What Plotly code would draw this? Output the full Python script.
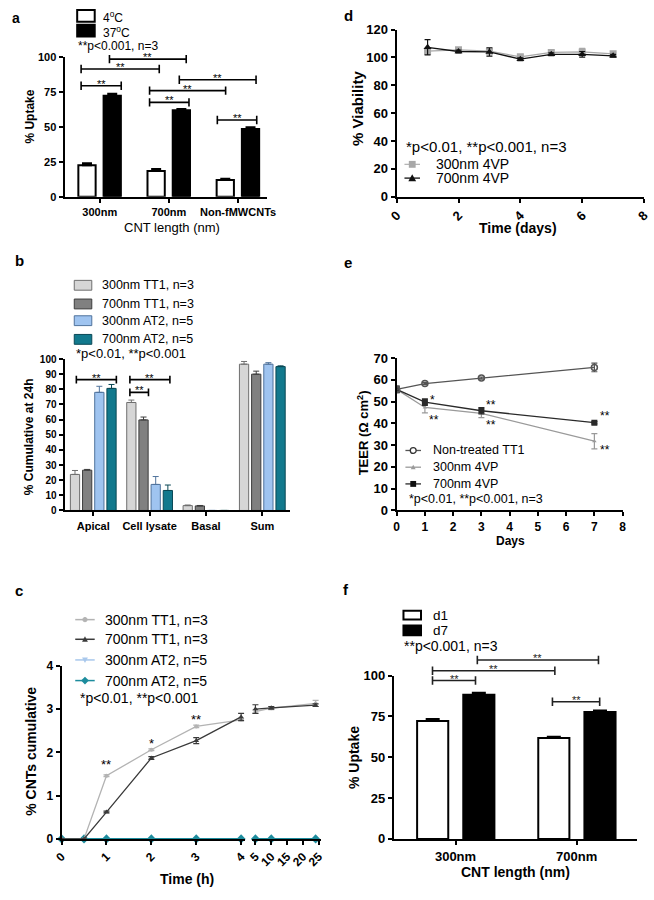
import plotly.graph_objects as go

W, H = 654, 900
FONT = "Liberation Sans, Arial, Helvetica, sans-serif"


def X(px):
    return px / W


def Y(py):
    return 1 - py / H


# ======================= DATA =======================
# (a) uptake at 4 and 37 degC
a_categories = ["300nm", "700nm", "Non-fMWCNTs"]
a_4C = [22.6, 18.4, 12.1]
a_4C_err = [1.4, 1.5, 0.8]
a_37C = [72.4, 62.0, 48.6]
a_37C_err = [1.3, 0.8, 1.2]
a_yticks = [0, 25, 50, 75, 100]

# (b) cumulative distribution at 24 h
b_categories = ["Apical", "Cell lysate", "Basal", "Sum"]
b_names = ["300nm TT1, n=3", "700nm TT1, n=3", "300nm AT2, n=5", "700nm AT2, n=5"]
b_300_TT1 = [23.8, 71.3, 3.2, 96.6]
b_300_TT1_err = [2.6, 1.6, 0.4, 1.8]
b_700_TT1 = [26.6, 59.8, 3.0, 90.0]
b_700_TT1_err = [0.5, 1.9, 0.3, 2.0]
b_300_AT2 = [78.0, 17.2, 0.0, 96.6]
b_300_AT2_err = [4.0, 5.2, 0.0, 1.0]
b_700_AT2 = [80.6, 13.2, 0.0, 95.0]
b_700_AT2_err = [2.6, 3.6, 0.0, 0.5]
b_yticks = [0, 10, 20, 30, 40, 50, 60, 70, 80, 90, 100]

# (c) cumulative transport over time
c_hours = [0, 0.5, 1, 2, 3, 4, 5, 10, 24]
c_300_TT1 = [0.0, 0.0, 1.46, 2.06, 2.60, 2.75, 2.94, 3.02, 3.13]
c_300_TT1_err = [0.0, 0.0, 0.02, 0.02, 0.03, 0.03, 0.04, 0.03, 0.07]
c_700_TT1 = [0.0, 0.0, 0.62, 1.87, 2.27, 2.82, 3.00, 3.03, 3.09]
c_700_TT1_err = [0.0, 0.0, 0.02, 0.03, 0.07, 0.08, 0.10, 0.03, 0.03]
c_300_AT2 = [0.0, 0.0, 0.0, 0.0, 0.0, 0.0, 0.0, 0.0, 0.0]
c_700_AT2 = [0.0, 0.0, 0.0, 0.0, 0.0, 0.0, 0.0, 0.0, 0.0]
c_ticks_1 = [0, 1, 2, 3, 4]
c_ticks_2 = [5, 10, 15, 20, 25]

# (d) viability
d_days = [1, 2, 3, 4, 5, 6, 7]
d_300 = [104.5, 105.5, 104.5, 100.5, 103.6, 104.0, 102.6]
d_300_err = [1.5, 1.0, 1.0, 1.0, 1.5, 2.5, 1.0]
d_700 = [107.3, 104.3, 104.0, 98.8, 102.3, 102.3, 101.2]
d_700_err = [5.5, 1.0, 3.0, 1.0, 1.0, 2.0, 1.0]
d_xticks = [0, 2, 4, 6, 8]
d_yticks = [0, 20, 40, 60, 80, 100, 120]

# (e) TEER
e_days = [0, 1, 3, 7]
e_ctrl = [55.6, 58.3, 60.8, 65.7]
e_ctrl_err = [1.0, 0.5, 0.5, 2.0]
e_300 = [55.6, 47.3, 44.6, 31.8]
e_300_err = [1.5, 2.5, 2.0, 3.5]
e_700 = [55.6, 49.8, 45.8, 40.3]
e_700_err = [1.5, 1.5, 1.5, 0.5]
e_xticks = [0, 1, 2, 3, 4, 5, 6, 7, 8]
e_yticks = [0, 10, 20, 30, 40, 50, 60, 70]

# (f) uptake day 1 vs day 7
f_categories = ["300nm", "700nm"]
f_d1 = [72.3, 61.8]
f_d1_err = [1.2, 0.8]
f_d7 = [88.3, 77.8]
f_d7_err = [1.2, 0.8]
f_yticks = [0, 25, 50, 75, 100]

# ======================= STYLE =======================
LG, LG_L = "#d6d6d6", "#6f6f6f"
DG, DG_L = "#808080", "#3c3c3c"
LB, LB_L = "#9fc4f0", "#50739c"
TL, TL_L = "#12798d", "#0a4855"

fig = go.Figure()


def zeros(n):
    return [0] * n


def bar(x, y, err, xa, ya, offset, width, fill, line, lw, ecolor, ew):
    fig.add_trace(go.Bar(
        x=x, y=y, xaxis=xa, yaxis=ya, offset=offset, width=width,
        marker=dict(color=fill, line=dict(color=line, width=lw)),
        error_y=dict(type="data", array=err, arrayminus=zeros(len(err)),
                     symmetric=False, color=ecolor, thickness=lw, width=ew),
        hoverinfo="skip"))


# (a)
bar(a_categories, a_4C, a_4C_err, "x", "y", -0.31, 0.25, "white", "black", 2, "black", 5)
bar(a_categories, a_37C, a_37C_err, "x", "y", 0.055, 0.25, "black", "black", 2, "black", 5)

# (b)
b_width = 0.164
b_offsets = [-0.406, -0.19, 0.026, 0.242]
bar(b_categories, b_300_TT1, b_300_TT1_err, "x3", "y3", b_offsets[0], b_width, LG, LG_L, 1, LG_L, 3)
bar(b_categories, b_700_TT1, b_700_TT1_err, "x3", "y3", b_offsets[1], b_width, DG, DG_L, 1, DG_L, 3)
bar(b_categories, b_300_AT2, b_300_AT2_err, "x3", "y3", b_offsets[2], b_width, LB, LB_L, 1, LB_L, 3)
bar(b_categories, b_700_AT2, b_700_AT2_err, "x3", "y3", b_offsets[3], b_width, TL, TL_L, 1, TL_L, 3)

# (f)
bar(f_categories, f_d1, f_d1_err, "x6", "y6", -0.317, 0.257, "white", "black", 2, "black", 7)
bar(f_categories, f_d7, f_d7_err, "x6", "y6", 0.064, 0.257, "black", "black", 2, "black", 7)


def line_trace(x, y, err, xa, ya, color, lw, symbol, msize, mfill=None, mline=None, mlw=0, clip=True):
    fig.add_trace(go.Scatter(
        x=x, y=y, xaxis=xa, yaxis=ya, mode="lines+markers",
        line=dict(color=color, width=lw),
        marker=dict(symbol=symbol, size=msize, color=mfill if mfill else color,
                    line=dict(color=mline if mline else color, width=mlw)),
        error_y=dict(type="data", array=err, color=color, thickness=1.2, width=3),
        cliponaxis=clip, hoverinfo="skip"))


# (c) broken x axis: two segments
def seg(xs, ys, es, lo, hi):
    idx = [i for i, v in enumerate(xs) if lo <= v <= hi]
    return [xs[i] for i in idx], [ys[i] for i in idx], [es[i] for i in idx]


c_series = [
    (c_300_AT2, zeros(len(c_hours)), "#a9c8ec", 1.5, "triangle-down", 5),
    (c_700_AT2, zeros(len(c_hours)), "#1d8c9d", 2, "diamond", 7),
    (c_300_TT1, c_300_TT1_err, "#b3b3b3", 1.3, "circle", 4),
    (c_700_TT1, c_700_TT1_err, "#3a3a3a", 1.3, "triangle-up", 5),
]
for ys, es, col, lw, sym, ms in c_series:
    for lo, hi, xa in [(0, 4, "x5"), (5, 30, "x7")]:
        sx, sy, se = seg(c_hours, ys, es, lo, hi)
        line_trace(sx, sy, se, xa, "y5", col, lw, sym, ms, clip=False)

# (d)
line_trace(d_days, d_300, d_300_err, "x2", "y2", "#a8a8a8", 1.2, "square", 7)
line_trace(d_days, d_700, d_700_err, "x2", "y2", "#111111", 1.3, "triangle-up", 7)

# (e)
line_trace(e_days, e_300, e_300_err, "x4", "y4", "#9a9a9a", 1.3, "triangle-up", 4)
line_trace(e_days, e_700, e_700_err, "x4", "y4", "#2a2a2a", 1.3, "square", 6)
line_trace(e_days, e_ctrl, e_ctrl_err, "x4", "y4", "#555555", 1.3, "circle-open", 6,
           mline="#333333", mlw=1.5)

# empty helpers so the bracket-only axes own a subplot
fig.add_trace(go.Scatter(x=[], y=[], xaxis="x", yaxis="y9", hoverinfo="skip"))
fig.add_trace(go.Scatter(x=[], y=[], xaxis="x6", yaxis="y8", hoverinfo="skip"))


# ======================= AXES =======================
def axis(domain, rng, anchor, tsize, **kw):
    d = dict(domain=domain, range=rng, anchor=anchor, showgrid=False, zeroline=False,
             showline=True, linecolor="black", linewidth=2, mirror=False,
             ticks="outside", ticklen=4, tickwidth=2, tickcolor="black",
             tickfont=dict(family=FONT, size=tsize, color="black", weight="bold"))
    d.update(kw)
    return d


layout = dict(
    width=W, height=H, margin=dict(l=0, r=0, t=0, b=0),
    paper_bgcolor="white", plot_bgcolor="rgba(0,0,0,0)", showlegend=False,
    barmode="overlay", font=dict(family=FONT, color="black"),
    # a
    xaxis=axis([X(57), X(265)], [-0.51, 2.42], "y", 11, type="category"),
    yaxis=axis([Y(193), Y(51)], [0, 100], "x", 11, tickvals=a_yticks),
    yaxis9=dict(domain=[Y(193), Y(40)], range=[0, (193 - 40) / 1.42], anchor="x", visible=False),
    # d
    xaxis2=axis([X(398), X(652)], [0, 8], "y2", 13, tickvals=d_xticks, tickangle=-45),
    yaxis2=axis([Y(193), Y(23)], [0, 120], "x2", 13, tickvals=d_yticks),
    # b
    xaxis3=axis([X(57), X(289)], [-0.51, 3.5], "y3", 11, type="category"),
    yaxis3=axis([Y(512), Y(358)], [0, 100], "x3", 10, tickvals=b_yticks),
    # e
    xaxis4=axis([X(398), X(630)], [0, 8], "y4", 12, tickvals=e_xticks),
    yaxis4=axis([Y(512), Y(357)], [0, 70], "x4", 13, tickvals=e_yticks),
    # c (segment 1 and segment 2)
    xaxis5=axis([X(54), X(242)], [0, 4.08], "y5", 12, tickvals=c_ticks_1, tickangle=-45),
    xaxis7=axis([X(249), X(320)], [3.77, 25.6], "y5", 12, tickvals=c_ticks_2, tickangle=-45),
    yaxis5=axis([Y(846), Y(670)], [0, 4], "x5", 12, tickvals=[0, 1, 2, 3, 4]),
    # f
    xaxis6=axis([X(395), X(645)], [-0.51, 1.5], "y6", 13, type="category"),
    yaxis6=axis([Y(846), Y(680)], [0, 100], "x6", 13, tickvals=f_yticks),
    yaxis8=dict(domain=[Y(846), Y(658)], range=[0, (846 - 658) / 1.66], anchor="x6", visible=False),
)
fig.update_layout(**layout)

# ======================= SHAPES / ANNOTATIONS =======================
shapes = []
annots = []


def bracket(xa, ya, x0, x1, y, cap, stars, color="black", lw=1.6, size=11):
    for (a0, b0, a1, b1) in [(x0, y, x1, y), (x0, y - cap, x0, y + cap), (x1, y - cap, x1, y + cap)]:
        shapes.append(dict(type="line", xref=xa, yref=ya, x0=a0, y0=b0, x1=a1, y1=b1,
                           line=dict(color=color, width=lw)))
    annots.append(dict(x=(x0 + x1) / 2, y=y, xref=xa, yref=ya, text=stars, showarrow=False,
                       xanchor="center", yanchor="middle", yshift=2,
                       font=dict(family=FONT, size=size, color=color)))


# (a) significance brackets
for x0, x1, y in [(-0.27, 0.31, 79.5), (-0.27, 0.86, 91.5), (0.14, 1.25, 98.6),
                  (0.72, 1.29, 67.6), (0.72, 1.82, 76.0), (1.15, 2.26, 83.8), (1.70, 2.27, 55.0)]:
    bracket("x", "y9", x0, x1, y, 3, "**")

# (b)
for x0, x1, y in [(-0.30, 0.41, 86.4), (0.65, 0.98, 78.0), (0.65, 1.36, 86.4)]:
    bracket("x3", "y3", x0, x1, y, 2.5, "**", lw=1.6)

# (f)
for x0, x1, y in [(-0.19, 0.165, 97.0), (-0.19, 0.82, 103.0), (0.18, 1.18, 109.6), (0.80, 1.19, 84.0)]:
    bracket("x6", "y8", x0, x1, y, 2.6, "**", color="#222222", lw=1.6)


def star(xa, ya, x, y, text, size, xanchor="center"):
    annots.append(dict(x=x, y=y, xref=xa, yref=ya, text=text, showarrow=False,
                       xanchor=xanchor, yanchor="middle", yshift=-3,
                       font=dict(family=FONT, size=size, color="black")))


# (c) stars
star("x5", "y5", 1, 1.80, "**", 13)
star("x5", "y5", 2, 2.27, "*", 13)
star("x5", "y5", 3, 2.83, "**", 13)
# (e) stars
star("x4", "y4", 1.12, 52.0, "*", 12, "left")
star("x4", "y4", 1.07, 43.0, "**", 12, "left")
star("x4", "y4", 3.10, 49.6, "**", 12, "left")
star("x4", "y4", 3.10, 40.7, "**", 12, "left")
star("x4", "y4", 7.14, 44.6, "**", 12, "left")
star("x4", "y4", 7.14, 29.3, "**", 12, "left")


def T(px, py, text, size=12, bold=False, xanchor="left", yanchor="middle", angle=0):
    annots.append(dict(x=X(px), y=Y(py), xref="paper", yref="paper", text=text, showarrow=False,
                       xanchor=xanchor, yanchor=yanchor, textangle=angle,
                       font=dict(family=FONT, size=size, color="black",
                                 weight="bold" if bold else "normal")))


def rect_px(x0, y0, x1, y1, fill, line, lw):
    shapes.append(dict(type="rect", xref="paper", yref="paper", x0=X(x0), x1=X(x1),
                       y0=Y(y1), y1=Y(y0), fillcolor=fill, line=dict(color=line, width=lw)))


def hline_px(x0, x1, y, color, lw):
    shapes.append(dict(type="line", xref="paper", yref="paper", x0=X(x0), x1=X(x1),
                       y0=Y(y), y1=Y(y), line=dict(color=color, width=lw)))


def path_px(pts, fill, line=None, lw=0):
    p = "M " + " L ".join(f"{X(a):.5f},{Y(b):.5f}" for a, b in pts) + " Z"
    shapes.append(dict(type="path", xref="paper", yref="paper", path=p, fillcolor=fill,
                       line=dict(color=line if line else fill, width=lw)))


def circle_px(cx, cy, r, fill, line, lw):
    shapes.append(dict(type="circle", xref="paper", yref="paper", x0=X(cx - r), x1=X(cx + r),
                       y0=Y(cy + r), y1=Y(cy - r), fillcolor=fill, line=dict(color=line, width=lw)))


def tri_up(cx, cy, r, fill):
    path_px([(cx, cy - r), (cx + r, cy + r * 0.8), (cx - r, cy + r * 0.8)], fill)


def tri_down(cx, cy, r, fill):
    path_px([(cx, cy + r), (cx + r, cy - r * 0.8), (cx - r, cy - r * 0.8)], fill)


def diamond(cx, cy, r, fill):
    path_px([(cx, cy - r), (cx + r, cy), (cx, cy + r), (cx - r, cy)], fill)


# ---- legends ----
# (a)
rect_px(70, 3, 88, 15, "white", "black", 2)
rect_px(70, 18, 88, 30, "black", "black", 2)
T(94, 10, "4<sup>o</sup>C", 12)
T(94, 25, "37<sup>o</sup>C", 12)
T(69, 40, "**p<0.001, n=3", 12)

# (b)
for (y0, fill, line), name in zip([(278, LG, LG_L), (297, DG, DG_L), (314, LB, LB_L), (333, TL, TL_L)], b_names):
    rect_px(67, y0, 85, y0 + 10, fill, line, 1)
    T(93, y0 + 5, name, 12.5)
T(67, 352, "*p<0.01, **p<0.001", 13)

# (c)
c_leg = [(623, "#b3b3b3", "circle", "300nm TT1, n=3"),
         (643, "#3a3a3a", "tri", "700nm TT1, n=3"),
         (664, "#a9c8ec", "trid", "300nm AT2, n=5"),
         (685, "#1d8c9d", "dia", "700nm AT2, n=5")]
for y, col, kind, name in c_leg:
    hline_px(68, 88, y, col, 1.5)
    if kind == "circle":
        circle_px(78, y, 2.2, col, col, 1)
    elif kind == "tri":
        tri_up(78, y, 3, col)
    elif kind == "trid":
        tri_down(78, y, 3, col)
    else:
        diamond(78, y, 4, col)
    T(97, y, name, 14)
T(71, 703, "*p<0.01, **p<0.001", 14)

# (d)
T(406, 142, "*p<0.01, **p<0.001, n=3", 15)
hline_px(406, 422, 160, "#b0b0b0", 1.2)
rect_px(410.5, 156.5, 417.5, 163.5, "#a8a8a8", "#a8a8a8", 0)
T(436, 160, "300nm 4VP", 14)
hline_px(406, 422, 174, "#111111", 1.3)
tri_up(414, 174, 4, "#111111")
T(436, 174, "700nm 4VP", 14)

# (e)
hline_px(407, 423, 451, "#555555", 1.3)
circle_px(415, 451, 3, "white", "#333333", 1.3)
T(433, 451, "Non-treated TT1", 12.5)
hline_px(407, 423, 468, "#9a9a9a", 1.3)
tri_up(415, 468, 2.5, "#9a9a9a")
T(433, 468, "300nm 4VP", 12.5)
hline_px(407, 423, 485, "#2a2a2a", 1.3)
rect_px(412, 482, 418, 488, "#111111", "#111111", 0)
T(433, 485, "700nm 4VP", 12.5)
T(409, 500, "*p<0.01, **p<0.001, n=3", 12.5)

# (f)
rect_px(405, 614, 423, 623, "white", "black", 2)
rect_px(405, 629, 423, 639, "black", "black", 2)
T(433, 619, "d1", 13.5)
T(433, 634, "d7", 13.5)
T(404, 650, "**p<0.001, n=3", 14)

# ---- axis titles ----
T(22, 111, "% Uptake", 12, True, "center", "middle", -90)
T(167, 224, "CNT length (nm)", 13, False, "center")
T(20, 437, "% Cumulative at 24h", 12, True, "center", "middle", -90)
T(23, 757, "% CNTs cumulative", 14, True, "center", "middle", -90)
T(183, 887, "Time (h)", 14, True, "center")
T(358, 103, "% Viability", 15, True, "center", "middle", -90)
T(523, 225, "Time (days)", 14, True, "center")
T(363, 433, "TEER (Ω cm<sup>2</sup>)", 13, True, "center", "middle", -90)
T(515, 543, "Days", 12, True, "center")
T(355, 763, "% Uptake", 14, True, "center", "middle", -90)
T(520, 880, "CNT length (nm)", 14, True, "center")

# ---- panel letters ----
T(1, 11, "a", 14, True)
T(4, 258, "b", 15, True)
T(4, 593, "c", 15, True)
T(342, 9, "d", 15, True)
T(342, 260, "e", 15, True)
T(341, 592, "f", 15, True)

fig.update_layout(shapes=shapes, annotations=annots)

fig.write_html("out.html", config={"displayModeBar": False},
               post_script="document.body.style.margin='0px';")
